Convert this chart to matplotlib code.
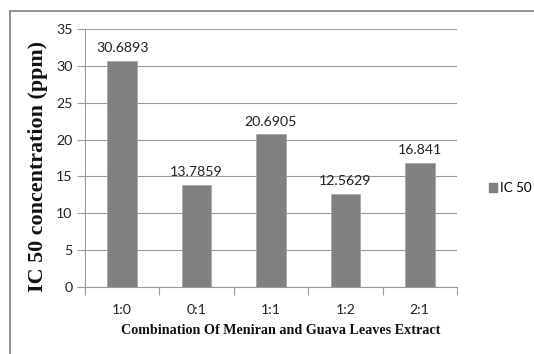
import matplotlib.pyplot as plt
import matplotlib.patches as mpatches
from matplotlib.lines import Line2D
import numpy as np

# Data
ratios = ["1:0", "0:1", "1:1", "1:2", "2:1"]
ic50 = [30.6893, 13.7859, 20.6905, 12.5629, 16.841]
ic50_labels = ["30.6893", "13.7859", "20.6905", "12.5629", "16.841"]
y_ticks = [0, 5, 10, 15, 20, 25, 30, 35]

plt.rcParams['font.family'] = ['Lato', 'DejaVu Sans']

fig = plt.figure(figsize=(5.34, 3.54), dpi=100)
ax = fig.add_axes([85 / 534, 1 - 287 / 354, (457 - 85) / 534, (287 - 29) / 354])

grid_c = "#9a9a9a"
bar_c = "#808080"
fs = 10.2

x = np.arange(len(ratios))
ax.bar(x, ic50, width=0.4, color=bar_c, edgecolor="#a8a8a8", linewidth=0.6, zorder=3)

for xi, v, lab in zip(x, ic50, ic50_labels):
    ax.annotate(lab, (xi, v), xytext=(0, 5), textcoords="offset points",
                ha="center", va="bottom", fontsize=fs, color="#222222")

ax.set_xlim(-0.5, len(ratios) - 0.5)
ax.set_ylim(0, 35)
ax.set_yticks(y_ticks)
ax.set_yticklabels([str(t) for t in y_ticks], fontsize=fs, color="#222222")
ax.yaxis.grid(True, color=grid_c, linewidth=0.8, zorder=0)
ax.set_axisbelow(True)

# category labels centered, tick marks at boundaries
ax.set_xticks(np.arange(-0.5, len(ratios)), minor=False)
ax.set_xticklabels([])
ax.set_xticks(x, minor=True)
ax.set_xticklabels(ratios, minor=True, fontsize=fs, color="#222222")
ax.tick_params(axis="x", which="major", length=6, color=grid_c, width=0.8)
ax.tick_params(axis="x", which="minor", length=0, pad=12)
ax.tick_params(axis="y", length=6, color=grid_c, width=0.8, pad=3)

for s in ["top", "right"]:
    ax.spines[s].set_visible(False)
for s in ["left", "bottom"]:
    ax.spines[s].set_color(grid_c)
    ax.spines[s].set_linewidth(0.8)

fig.text(281 / 534, 1 - 331 / 354, "Combination Of Meniran and Guava Leaves Extract",
         ha="center", va="center", fontsize=10.2, fontweight="bold",
         family="Liberation Serif", color="#111111")
fig.text(38 / 534, 1 - 166 / 354, "IC 50 concentration (ppm)",
         ha="center", va="center", rotation=90, fontsize=15.8, fontweight="bold",
         family="Liberation Serif", color="#111111")

# legend
handle = mpatches.Patch(color=bar_c, label="IC 50")
fig.legend(handles=[handle], loc="center left", bbox_to_anchor=(489 / 534, 1 - 188 / 354),
           frameon=False, fontsize=9.6, handlelength=0.6, handleheight=0.6,
           handletextpad=0.25, borderaxespad=0, borderpad=0)

# outer chart border
fig.add_artist(Line2D([10 / 534, 10 / 534], [0, 1 - 11 / 354], color="#8c8c8c", linewidth=1.3))
fig.add_artist(Line2D([10 / 534, 1], [1 - 11 / 354, 1 - 11 / 354], color="#8c8c8c", linewidth=1.3))

fig.savefig("out.png", dpi=100)
